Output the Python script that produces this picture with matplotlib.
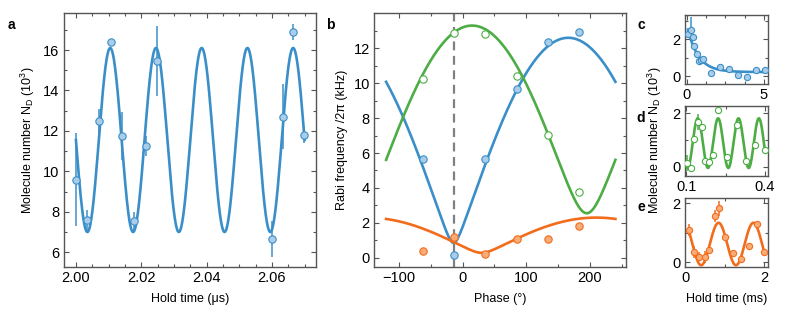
import matplotlib
matplotlib.use('Agg')
import matplotlib.pyplot as plt
import numpy as np
from matplotlib.ticker import AutoMinorLocator, FixedLocator

# colours
BLUE = '#3a8fc9'
BLUE_FILL = '#a9cde9'
GREEN = '#4cad45'
ORANGE = '#f26c1c'
ORANGE_FILL = '#f8ad78'
SPINE = '#555555'

# ---- panel a: Rabi oscillation (hold time in us, N_D in 10^3)
a_time = [2.000, 2.0035, 2.007, 2.0106, 2.0142, 2.0178, 2.0213, 2.0249,
          2.0600, 2.0633, 2.0665, 2.0697]
a_num = [9.58, 7.60, 12.50, 16.38, 11.75, 7.55, 11.25, 15.46,
         6.64, 12.70, 16.89, 11.80]
a_err = [2.3, 0.5, 0.6, 0.15, 1.2, 0.45, 0.5, 1.75, 0.9, 1.6, 0.4, 0.4]
a_fit_mean, a_fit_amp, a_fit_period, a_fit_peak = 11.55, 4.55, 0.014, 2.0105

# ---- panel b: Rabi frequency vs phase
b_phase = [-62.4, -13.4, 35.6, 85.0, 133.5, 183.0]
b_blue = [5.66, 0.15, 5.66, 9.67, 12.34, 12.92]
b_green = [10.22, 12.86, 12.82, 10.41, 7.03, 3.78]
b_orange = [0.40, 1.17, 0.21, 1.05, 1.05, 1.83]
# fit: |a + b exp(i(phi - phi0))|
b_fit_blue = (6.725, 5.875, 166.0)
b_fit_green = (7.925, 5.375, 15.0)
b_fit_orange = (1.29, 1.01, 210.0)
b_dashed_phase = -14.0

# ---- panel c: decay
c_time = [0.10, 0.26, 0.39, 0.49, 0.65, 0.80, 0.90, 1.03, 1.57, 2.15, 2.73,
          3.32, 3.90, 4.46, 5.04]
c_num = [2.27, 2.54, 2.11, 1.64, 1.18, 0.84, 0.85, 0.91, 0.15, 0.51, 0.38,
         0.05, -0.04, 0.31, 0.34]
c_err = [0.15, 0.7, 0.15, 0.1, 0.1, 0.25, 0.1, 0.1, 0.05, 0.05, 0.05,
         0.05, 0.15, 0.05, 0.05]

# ---- panel d: green oscillation
d_time = [0.104, 0.117, 0.130, 0.144, 0.160, 0.171, 0.187, 0.201, 0.221,
          0.256, 0.292, 0.327, 0.364, 0.399]
d_num = [0.15, -0.06, 1.03, 1.66, 1.48, 0.21, 0.16, 0.44, 2.12,
         0.37, 1.57, 0.22, 0.80, 0.62]
d_err = [0.3, 0.05, 0.1, 0.3, 0.1, 0.05, 0.05, 0.05, 0.05,
         0.05, 0.05, 0.05, 0.05, 0.05]

# ---- panel e: orange oscillation
e_time = [0.093, 0.23, 0.35, 0.49, 0.60, 0.74, 0.86, 1.00, 1.20, 1.40,
          1.60, 1.80, 2.00]
e_num = [1.09, 0.34, 0.19, 0.17, 0.42, 1.58, 1.83, 0.87, 0.31, 0.11,
         0.56, 1.29, 0.35]
e_err = [0.2, 0.2, 0.15, 0.2, 0.1, 0.2, 0.25, 0.1, 0.05, 0.05,
         0.05, 0.05, 0.05]

plt.rcParams['font.family'] = ['Liberation Sans', 'DejaVu Sans']
plt.rcParams['mathtext.default'] = 'regular'

TICK_FS = 10.5
LABEL_FS = 9


def style_axes(ax, xminor, yminor):
    for s in ax.spines.values():
        s.set_color(SPINE)
        s.set_linewidth(1.0)
    ax.tick_params(which='both', direction='in', top=True, right=True,
                   color=SPINE, width=0.8, labelsize=TICK_FS, pad=3)
    ax.tick_params(which='major', length=3.5)
    ax.tick_params(which='minor', length=2)
    ax.xaxis.set_minor_locator(AutoMinorLocator(xminor))
    ax.yaxis.set_minor_locator(AutoMinorLocator(yminor))


def data_points(ax, x, y, err, color, fill, ms=5.3):
    ax.errorbar(x, y, yerr=err, fmt='none', ecolor=color, elinewidth=1.1,
                capsize=0, zorder=2)
    ax.plot(x, y, 'o', ms=ms, mfc=fill, mec=color, mew=0.8, zorder=4)


fig = plt.figure(figsize=(7.93, 3.14), dpi=100)

# ---- a
ax = fig.add_axes([0.0801, 0.1497, 0.3184, 0.8089])
t = np.linspace(2.0, 2.07, 800)
ax.plot(t, a_fit_mean + a_fit_amp * np.cos(2 * np.pi * (t - a_fit_peak) / a_fit_period),
        color=BLUE, lw=1.9, zorder=3)
data_points(ax, a_time, a_num, a_err, BLUE, BLUE_FILL)
ax.set_xlim(1.9962, 2.0735)
ax.set_ylim(5.27, 17.83)
ax.set_xticks([2.00, 2.02, 2.04, 2.06])
ax.set_xticklabels(['2.00', '2.02', '2.04', '2.06'])
ax.set_yticks([6, 8, 10, 12, 14, 16])
style_axes(ax, 4, 2)
ax.set_xlabel('Hold time (μs)', fontsize=LABEL_FS, labelpad=6)
ax.set_ylabel('Molecule number N$_D$ (10$^3$)', fontsize=LABEL_FS, labelpad=4)

# ---- b
ax = fig.add_axes([0.4716, 0.1497, 0.3178, 0.8089])
ph = np.linspace(-120, 240, 600)
for (a, b, p0), col in [(b_fit_blue, BLUE), (b_fit_green, GREEN), (b_fit_orange, ORANGE)]:
    ax.plot(ph, np.sqrt(a**2 + b**2 + 2 * a * b * np.cos(np.radians(ph - p0))),
            color=col, lw=1.9, zorder=3)
ax.axvline(b_dashed_phase, color='#808080', lw=1.6, ls=(0, (4, 2.5)), zorder=2)
ax.plot(b_phase, b_blue, 'o', ms=5.3, mfc=BLUE_FILL, mec=BLUE, mew=0.8, zorder=4)
ax.plot(b_phase, b_green, 'o', ms=5.3, mfc='white', mec=GREEN, mew=0.8, zorder=4)
ax.plot(b_phase, b_orange, 'o', ms=5.3, mfc=ORANGE_FILL, mec=ORANGE, mew=0.8, zorder=4)
ax.set_xlim(-139, 256.6)
ax.set_ylim(-0.53, 14.02)
ax.set_xticks([-100, 0, 100, 200])
ax.set_yticks([0, 2, 4, 6, 8, 10, 12])
style_axes(ax, 2, 2)
ax.set_xlabel('Phase (°)', fontsize=LABEL_FS, labelpad=6)
ax.set_ylabel('Rabi frequency /2π (kHz)', fontsize=LABEL_FS, labelpad=4)

# ---- c
ax = fig.add_axes([0.8632, 0.7315, 0.1053, 0.2223])
tc = np.linspace(0.08, 5.0, 300)
ax.plot(tc, 0.22 + 2.6 * np.exp(-tc / 0.7), color=BLUE, lw=1.9, zorder=3)
data_points(ax, c_time, c_num, c_err, BLUE, BLUE_FILL, ms=4.5)
ax.set_xlim(-0.14, 5.26)
ax.set_ylim(-0.45, 3.36)
ax.set_xticks([0, 5])
ax.set_yticks([0, 2])
style_axes(ax, 4, 2)

# ---- d
ax = fig.add_axes([0.8632, 0.4395, 0.1053, 0.2229])
td = np.linspace(0.1, 0.4, 400)
ax.plot(td, 0.88 + 0.93 * np.cos(2 * np.pi * (td - 0.144) / 0.0777),
        color=GREEN, lw=1.9, zorder=3)
data_points(ax, d_time, d_num, d_err, GREEN, 'white', ms=4.5)
ax.set_xlim(0.0935, 0.412)
ax.set_ylim(-0.35, 2.27)
ax.xaxis.set_major_locator(FixedLocator([0.1, 0.4]))
ax.set_xticklabels(['0.1', '0.4'])
ax.set_yticks([0, 2])
style_axes(ax, 2, 2)

# ---- e
ax = fig.add_axes([0.8632, 0.1506, 0.1053, 0.2178])
te = np.linspace(0.09, 2.0, 400)
ax.plot(te, 0.62 + 0.72 * np.cos(2 * np.pi * (te - 0.84) / 0.88),
        color=ORANGE, lw=1.9, zorder=3)
data_points(ax, e_time, e_num, e_err, ORANGE, ORANGE_FILL, ms=4.5)
ax.set_xlim(-0.02, 2.09)
ax.set_ylim(-0.15, 2.17)
ax.set_xticks([0, 2])
ax.set_yticks([0, 2])
style_axes(ax, 2, 2)
ax.set_xlabel('Hold time (ms)', fontsize=LABEL_FS, labelpad=6)

# shared label for c-e
fig.text(655 / 793, 1 - 140 / 314, 'Molecule number N$_D$ (10$^3$)',
         rotation=90, ha='center', va='center', fontsize=LABEL_FS)

# panel letters
for lbl, x, y in [('a', 11, 25), ('b', 330, 25), ('c', 641, 25), ('d', 641, 118), ('e', 641, 207)]:
    fig.text(x / 793, 1 - y / 314, lbl, fontsize=10, fontweight='bold',
             ha='center', va='center')

fig.savefig('out.png', dpi=100, facecolor='white')
